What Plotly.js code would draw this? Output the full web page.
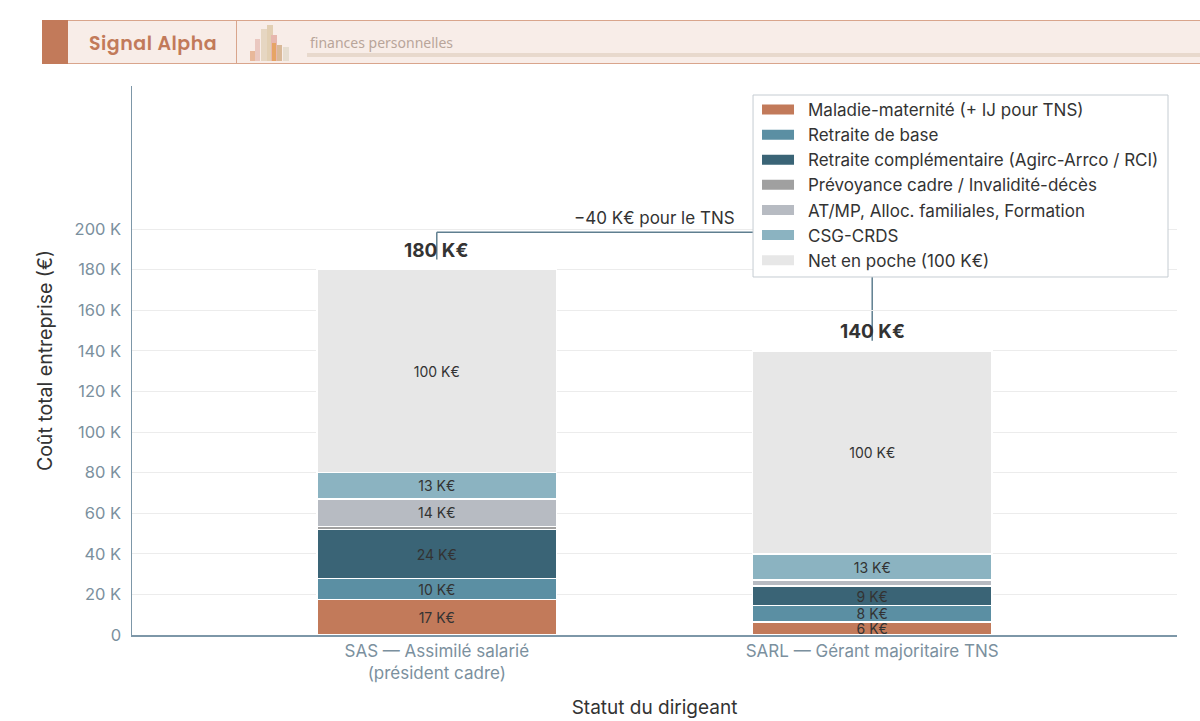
<!DOCTYPE html>
<html>
<head>
<meta charset="utf-8">
<script src="https://cdn.plot.ly/plotly-3.0.1.min.js"></script>
<style>
  html, body { margin:0; padding:0; background:#fff; width:1200px; height:721px; overflow:hidden; }
  #chart { position:absolute; left:0; top:0; width:1200px; height:721px; }
  #hdr { position:absolute; left:42px; top:20px; width:1158px; height:44px; background:#f8ede8;
         border-top:1px solid #d9a58c; border-bottom:1px solid #d9a58c; box-sizing:border-box; z-index:2; }
  #hdr .blk { position:absolute; left:0; top:-1px; width:26px; height:44px; background:#c27a5a; }
  #hdr .brand { position:absolute; left:47px; top:8px; font-family:'Poppins','Noto Sans',sans-serif; font-weight:600;
         font-size:19px; color:#c27a5a; letter-spacing:0.5px; }
  #hdr .div { position:absolute; left:194px; top:0; width:1px; height:42px; background:#d9a58c; }
  #hdr .sub { position:absolute; left:268px; top:12px; font-family:'Noto Sans',sans-serif; font-size:14px; color:#b9a59a; }
  #hdr .uline { position:absolute; left:265px; top:32px; right:0; height:4px; background:#e8d9cd; }
  #hdr .ic { position:absolute; bottom:2px; }
</style>
</head>
<body>
<div id="hdr">
  <div class="blk"></div>
  <div class="brand">Signal Alpha</div>
  <div class="div"></div>
  <div class="ic" style="left:208px;width:7px;height:10px;background:#e8b89a;"></div>
  <div class="ic" style="left:213px;width:5px;height:22px;background:#eac8c0;"></div>
  <div class="ic" style="left:219px;width:7px;height:32px;background:#e6d6c2;"></div>
  <div class="ic" style="left:225px;width:6px;height:36px;background:#e2cfb3;"></div>
  <div class="ic" style="left:229px;width:6px;height:26px;background:#e7b7ae;"></div>
  <div class="ic" style="left:230px;width:4px;height:18px;background:#e6a465;"></div>
  <div class="ic" style="left:235px;width:5px;height:16px;background:#d9b897;"></div>
  <div class="ic" style="left:241px;width:6px;height:14px;background:#e6ddd0;"></div>
  <div class="sub">finances personnelles</div>
  <div class="uline"></div>
</div>
<div id="chart"></div>
<script>
// ---- data ----
const categories = ['SAS — Assimilé salarié<br>(président cadre)', 'SARL — Gérant majoritaire TNS'];
const seriesNames = [
  'Maladie-maternité (+ IJ pour TNS)',
  'Retraite de base',
  'Retraite complémentaire (Agirc-Arrco / RCI)',
  'Prévoyance cadre / Invalidité-décès',
  'AT/MP, Alloc. familiales, Formation',
  'CSG-CRDS',
  'Net en poche (100 K€)'
];
const maladie      = [17.4, 6.3];
const retraiteBase = [10.4, 8.3];
const retraiteCompl= [24.2, 9.2];
const prevoyance   = [1.5, 0.5];
const atmp         = [13.6, 2.7];
const csg          = [12.9, 13.0];
const netPoche     = [100, 100];
const totals       = [180, 140];
const gapLabel     = '−40 K€ pour le TNS';
const yTickVals    = [0, 20, 40, 60, 80, 100, 120, 140, 160, 180, 200];
const yTickText    = ['0', '20 K', '40 K', '60 K', '80 K', '100 K', '120 K', '140 K', '160 K', '180 K', '200 K'];

const seriesValues = [maladie, retraiteBase, retraiteCompl, prevoyance, atmp, csg, netPoche];
const colors = ['#c27a5a', '#5b8fa3', '#3a6476', '#a0a0a0', '#b7bbc2', '#8bb3c1', '#e7e7e7'];
const minLabel = 5;

const font = 'Inter, "Noto Sans", sans-serif';

const barTraces = seriesValues.map((vals, i) => ({
  type: 'bar',
  name: seriesNames[i],
  x: categories,
  y: vals,
  width: 0.55,
  showlegend: false,
  marker: { color: colors[i], line: { color: '#ffffff', width: 1.5 } },
  text: vals.map(v => v >= minLabel ? Math.round(v) + ' K€' : ''),
  textposition: 'inside',
  insidetextanchor: 'middle',
  textfont: { family: font, size: 14, color: '#333333' },
  constraintext: 'none',
  hoverinfo: 'skip'
}));

// legend entries (wide rectangular swatches)
const legendTraces = seriesNames.map((n, i) => ({
  type: 'scatter',
  mode: 'lines',
  name: n,
  x: [null], y: [null],
  line: { color: colors[i], width: 12, dash: '32px,60px' },
  legendgroup: 'g' + i,
  showlegend: true,
  hoverinfo: 'skip'
}));

const bracketY = 198.5;
const layout = {
  width: 1200, height: 721,
  paper_bgcolor: '#ffffff', plot_bgcolor: '#ffffff',
  barmode: 'stack',
  margin: { l: 132, r: 23, t: 86, b: 86 },
  font: { family: font, color: '#333333' },
  showlegend: true,
  legend: {
    x: 0.5981, y: 0.9891, xanchor: 'left', yanchor: 'top',
    bgcolor: 'rgba(0,0,0,0)', bordercolor: 'rgba(0,0,0,0)', borderwidth: 0,
    traceorder: 'normal',
    itemwidth: 41,
    font: { family: font, size: 17, color: '#333333' },
    tracegroupgap: 1.85
  },
  xaxis: {
    type: 'category',
    range: [-0.7, 1.7],
    showline: true, linecolor: '#7d97a8', linewidth: 1.5,
    showgrid: false, ticks: '',
    tickfont: { family: font, size: 17, color: '#7b909e' },
    title: { text: 'Statut du dirigeant', font: { family: font, size: 19, color: '#333333' }, standoff: 18 }
  },
  yaxis: {
    range: [0, 270.5],
    tickvals: yTickVals, ticktext: yTickText,
    showline: true, linecolor: '#7d97a8', linewidth: 1.5,
    showgrid: true, gridcolor: '#ececec', gridwidth: 1,
    zeroline: false, ticks: '',
    ticklabelstandoff: 6,
    tickfont: { family: font, size: 16.5, color: '#7b909e' },
    title: { text: 'Coût total entreprise (€)', font: { family: font, size: 19.5, color: '#333333' }, standoff: 17 }
  },
  shapes: [
    { type: 'line', xref: 'x', yref: 'y', x0: 0, x1: 0, y0: 185, y1: bracketY, line: { color: '#5f7f90', width: 1.5 }, layer: 'below' },
    { type: 'line', xref: 'x', yref: 'y', x0: 0, x1: 1, y0: bracketY, y1: bracketY, line: { color: '#5f7f90', width: 1.5 }, layer: 'below' },
    { type: 'line', xref: 'x', yref: 'y', x0: 1, x1: 1, y0: bracketY, y1: 145, line: { color: '#5f7f90', width: 1.5 }, layer: 'below' },
    // legend box
    { type: 'rect', xref: 'paper', yref: 'paper', x0: 0.5943, x1: 0.9914, y0: 0.6521, y1: 0.9836,
      fillcolor: '#ffffff', line: { color: '#c5ccd2', width: 1 }, layer: 'above' }
  ],
  annotations: [
    { x: 0, y: totals[0], xref: 'x', yref: 'y', text: '<b>' + totals[0] + ' K€</b>', showarrow: false,
      yanchor: 'bottom', yshift: 6, font: { family: font, size: 19, color: '#333333' } },
    { x: 1, y: totals[1], xref: 'x', yref: 'y', text: '<b>' + totals[1] + ' K€</b>', showarrow: false,
      yanchor: 'bottom', yshift: 6, font: { family: font, size: 19, color: '#333333' } },
    { x: 0.5, y: bracketY, xref: 'x', yref: 'y', text: gapLabel, showarrow: false,
      yanchor: 'bottom', yshift: 2, font: { family: font, size: 17, color: '#333333' } }
  ]
};

Plotly.newPlot('chart', barTraces.concat(legendTraces), layout, { displayModeBar: false, staticPlot: true });
</script>
</body>
</html>
